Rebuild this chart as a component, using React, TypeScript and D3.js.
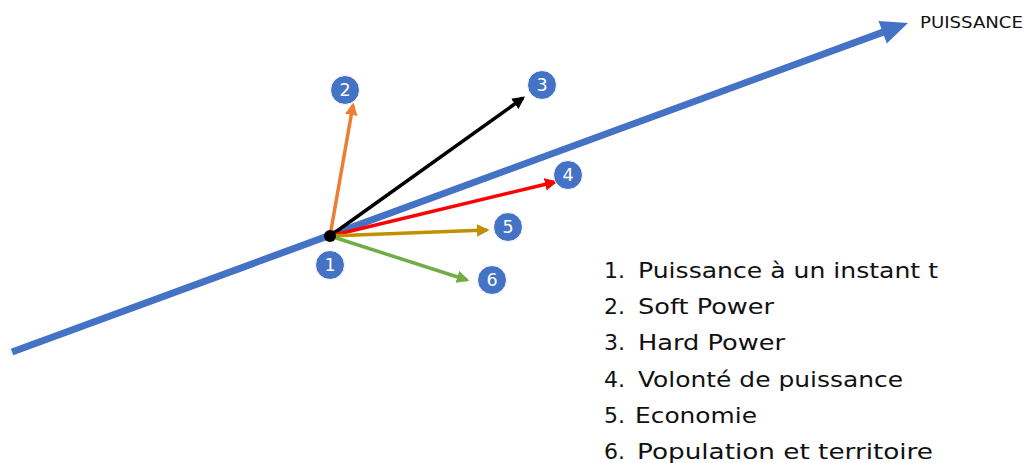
import React from 'react';
import * as d3 from 'd3';

// axis of "puissance" (start, end) in diagram units, origin = point 1
const axisStart = [-318, -116];
const axisEnd = [578, 213];
const axisLabel = 'PUISSANCE';

// the five component vectors leaving point 1
const vectorIds = [2, 3, 4, 5, 6];
const vectorColors = ['#ED7D31', '#000000', '#FF0000', '#BF9000', '#70AD47'];
const vectorTipX = [23, 193, 225, 157, 137];
const vectorTipY = [131, 138, 54, 6, -44];

// numbered badges
const badgeIds = [1, 2, 3, 4, 5, 6];
const badgeX = [0, 15, 212, 238, 178, 162];
const badgeY = [-29, 146, 151, 61, 9, -44];

// legend
const legendNums = ['1.', '2.', '3.', '4.', '5.', '6.'];
const legendLabels = [
  'Puissance à un instant t',
  'Soft Power',
  'Hard Power',
  'Volonté de puissance',
  'Economie',
  'Population et territoire',
];
const legendWidths = [300, 136, 147, 265, 122, 296];

const W = 1030;
const H = 463;

export default function App() {
  const x = d3.scaleLinear().domain([-330, 700]).range([0, W]);
  const y = d3.scaleLinear().domain([-227, 236]).range([H, 0]);
  const legendY = d3.scalePoint<number>().domain(d3.range(6)).range([278, 459]);

  const blue = '#4472C4';
  const ax0 = [x(axisStart[0]), y(axisStart[1])];
  const ax1 = [x(axisEnd[0]), y(axisEnd[1])];
  const ang = Math.atan2(ax1[1] - ax0[1], ax1[0] - ax0[0]);
  const headLen = 27;
  const headHalf = 12;
  const base = [ax1[0] - headLen * Math.cos(ang), ax1[1] - headLen * Math.sin(ang)];
  const nx = -Math.sin(ang);
  const ny = Math.cos(ang);
  const head = [
    [ax1[0], ax1[1]],
    [base[0] + nx * headHalf, base[1] + ny * headHalf],
    [base[0] - nx * headHalf, base[1] - ny * headHalf],
  ];

  return (
    <svg
      width={W}
      height={H}
      style={{ position: 'absolute', left: 0, top: 0, background: '#fff' }}
      fontFamily="'DejaVu Sans', sans-serif"
    >
      <defs>
        {vectorColors.map((c, i) => (
          <marker
            key={i}
            id={'head' + i}
            viewBox="0 0 10 10"
            refX={8}
            refY={5}
            markerWidth={3.6}
            markerHeight={3.6}
            orient="auto"
            markerUnits="strokeWidth"
          >
            <path d="M0,0 L10,5 L0,10 z" fill={c} />
          </marker>
        ))}
      </defs>

      {/* main axis */}
      <line
        x1={ax0[0]}
        y1={ax0[1]}
        x2={base[0] + 2 * Math.cos(ang)}
        y2={base[1] + 2 * Math.sin(ang)}
        stroke={blue}
        strokeWidth={7}
      />
      <path d={d3.line()(head as [number, number][]) + 'Z'} fill={blue} />
      <text x={920} y={28} fontSize={16.5} fill="#111" textLength={103} lengthAdjust="spacingAndGlyphs">
        {axisLabel}
      </text>

      {/* vectors */}
      {vectorIds.map((id, i) => (
        <line
          key={id}
          x1={x(0)}
          y1={y(0)}
          x2={x(vectorTipX[i])}
          y2={y(vectorTipY[i])}
          stroke={vectorColors[i]}
          strokeWidth={3.5}
          markerEnd={`url(#head${i})`}
        />
      ))}
      <circle cx={x(0)} cy={y(0)} r={6} fill="#000" />

      {/* badges */}
      {badgeIds.map((id, i) => (
        <g key={id} transform={`translate(${x(badgeX[i])},${y(badgeY[i])})`}>
          <circle r={14.5} fill={blue} stroke="#fff" strokeWidth={1} />
          <text textAnchor="middle" dy="0.36em" fontSize={17.5} fill="#fff">
            {id}
          </text>
        </g>
      ))}

      {/* legend */}
      {legendLabels.map((lab, i) => (
        <g key={i} transform={`translate(0,${legendY(i)})`} fontSize={21.5} fill="#111">
          <text x={604} textLength={21} lengthAdjust="spacingAndGlyphs">{legendNums[i]}</text>
          <text
            x={i < 4 ? 638 : i === 4 ? 635 : 637}
            textLength={legendWidths[i]}
            lengthAdjust="spacingAndGlyphs"
          >
            {lab}
          </text>
        </g>
      ))}
    </svg>
  );
}
